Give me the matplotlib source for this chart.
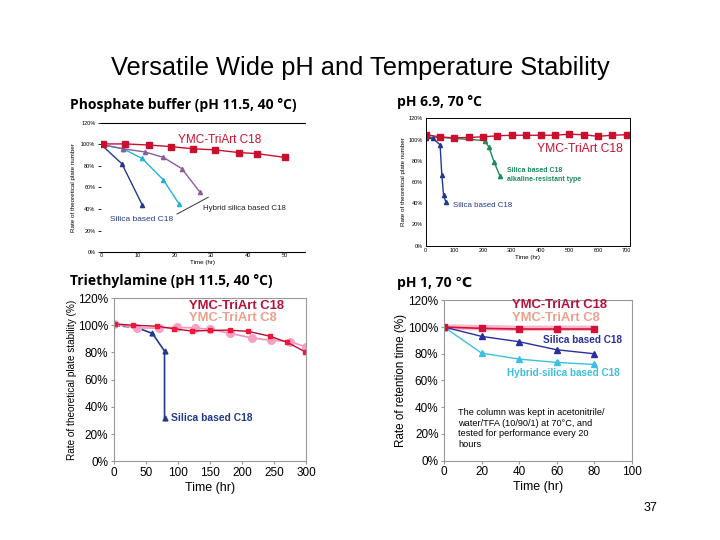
import matplotlib.pyplot as plt
from matplotlib.ticker import FuncFormatter

plt.rcParams['font.family'] = ['Liberation Sans', 'DejaVu Sans']

# --- data ---------------------------------------------------------------
# Phosphate buffer (pH 11.5, 40 C)
p1_c18_x = [0.5, 6.5, 13, 19, 25, 31, 37.5, 42.5, 50]
p1_c18_y = [100.5, 100.5, 99.5, 98, 96, 95, 92.5, 91.5, 88]
p1_silica_x = [0, 5.7, 11.2]
p1_silica_y = [100, 82, 44]
p1_hyb1_x = [0, 6, 11.2, 17, 21.2]
p1_hyb1_y = [100, 96, 87, 67, 45]
p1_hyb2_x = [0, 6, 12, 17, 22, 27]
p1_hyb2_y = [100, 96, 93, 88, 77.5, 55.5]

# pH 6.9, 70 C
p2_c18_x = [0, 50, 100, 150, 200, 250, 300, 350, 400, 450, 500, 550, 600, 650, 700]
p2_c18_y = [104.5, 102.5, 101.5, 102, 102.5, 103.5, 104, 104, 104, 104, 105, 104.5, 103, 104, 104.5]
p2_silica_x = [0, 25, 50, 56, 62, 70]
p2_silica_y = [101, 101, 95, 67, 48, 41]
p2_alk_x = [0, 50, 205, 220, 238, 258]
p2_alk_y = [102, 102, 99, 93, 79, 66]

# Triethylamine (pH 11.5, 40 C)
p3_c18_x = [1, 30, 67, 94, 122, 150, 181, 210, 243, 271, 299]
p3_c18_y = [101, 100, 99.3, 97.4, 95.7, 96.2, 96.4, 95.5, 92, 87.4, 80.4]
p3_c8_x = [0, 36, 71, 98, 126, 150, 182, 216, 245, 275, 300]
p3_c8_y = [101, 98, 98, 98.5, 98, 97, 94, 90.6, 89, 88, 84]
p3_silica_x = [0, 20, 40, 60, 79, 79]
p3_silica_y = [100, 99, 97.5, 94, 81, 32]

# pH 1, 70 C
p4_x = [0, 20, 40, 60, 80]
p4_c18_y = [100, 99, 98.5, 98.5, 98.5]
p4_c8_y = [100, 99.5, 99, 99, 99]
p4_silica_y = [100, 93, 89, 83, 80]
p4_hyb_y = [100, 80.5, 76, 73.5, 72]

pct = FuncFormatter(lambda v, p: '%d%%' % v)

RED = '#c8102e'
NAVY = '#233a8c'
CYAN = '#20b4d4'
PURPLE = '#8c5c9c'
GREEN = '#1d8a5c'

fig = plt.figure(figsize=(7.2, 5.4), dpi=100)
fig.text(0.5, 0.874, 'Versatile Wide pH and Temperature Stability', ha='center', va='center', fontsize=18.3)
fig.text(0.903, 0.06, '37', ha='center', va='center', fontsize=9)

title_kw = dict(fontsize=10, fontweight='bold', family=['Open Sans', 'DejaVu Sans'], ha='left', va='center')
fig.text(0.097, 0.805, 'Phosphate buffer (pH 11.5, 40 \u00b0C)', **title_kw)
fig.text(0.551, 0.811, 'pH 6.9, 70 \u00b0C', **title_kw)
fig.text(0.097, 0.48, 'Triethylamine (pH 11.5, 40 \u00b0C)', **title_kw)
fig.text(0.551, 0.476, 'pH 1, 70 \u2103', **title_kw)

# --- panel 1 ------------------------------------------------------------
ax1 = fig.add_axes([0.1403, 0.5333, 0.283, 0.239])
ax1.plot(p1_silica_x, p1_silica_y, color=NAVY, marker='^', ms=3, lw=1)
ax1.plot(p1_hyb1_x, p1_hyb1_y, color=CYAN, marker='^', ms=3, lw=1)
ax1.plot(p1_hyb2_x, p1_hyb2_y, color=PURPLE, marker='^', ms=3, lw=1)
ax1.plot(p1_c18_x, p1_c18_y, color=RED, marker='s', ms=4, lw=1)
ax1.plot([20.7, 29.2], [35.3, 50.9], color='#333333', lw=0.7)
ax1.text(20.9, 104, 'YMC-TriArt C18', color=RED, fontsize=8.5, va='center')
ax1.text(27.7, 40, 'Hybrid silica based C18', color='#222222', fontsize=5.7, va='center')
ax1.text(2.4, 30.7, 'Silica based C18', color=NAVY, fontsize=6, va='center')
ax1.set_xlim(0, 55.5)
ax1.set_ylim(0, 120)
ax1.set_xticks([0, 10, 20, 30, 40, 50])
ax1.set_yticks([0, 20, 40, 60, 80, 100, 120])
ax1.yaxis.set_major_formatter(pct)
ax1.tick_params(labelsize=4, length=2, width=0.6, pad=2)
ax1.tick_params(axis='x', length=0, pad=1)
for s in ['left', 'right']:
    ax1.spines[s].set_visible(False)
ax1.set_ylabel('Rate of theoretical plate number', fontsize=4.5, labelpad=4)
ax1.set_xlabel('Time (hr)', fontsize=4.5, labelpad=1)

# --- panel 2 ------------------------------------------------------------
ax2 = fig.add_axes([0.5913, 0.545, 0.2838, 0.236])
ax2.plot(p2_alk_x, p2_alk_y, color=GREEN, marker='^', ms=3, lw=1)
ax2.plot(p2_silica_x, p2_silica_y, color=NAVY, marker='^', ms=3, lw=1)
ax2.plot(p2_c18_x, p2_c18_y, color=RED, marker='s', ms=4, lw=1)
ax2.text(388, 91, 'YMC-TriArt C18', color=RED, fontsize=8.7, va='center')
ax2.text(284, 67, 'Silica based C18\nalkaline-resistant type', color=GREEN, fontsize=5,
         va='center', fontweight='bold', linespacing=1.4)
ax2.text(95, 37.4, 'Silica based C18', color=NAVY, fontsize=5.7, va='center')
ax2.set_xlim(0, 712)
ax2.set_ylim(0, 120)
ax2.set_xticks([0, 100, 200, 300, 400, 500, 600, 700])
ax2.set_yticks([0, 20, 40, 60, 80, 100, 120])
ax2.yaxis.set_major_formatter(pct)
ax2.tick_params(labelsize=4, length=0, pad=2)
for s in ax2.spines.values():
    s.set_linewidth(0.7)
ax2.set_ylabel('Rate of theoretical plate number', fontsize=4.5, labelpad=2)
ax2.set_xlabel('Time (hr)', fontsize=4.5, labelpad=1)

# --- panel 3 ------------------------------------------------------------
ax3 = fig.add_axes([0.1583, 0.1457, 0.2667, 0.3024])
ax3.plot(p3_silica_x[:3], p3_silica_y[:3], color=NAVY, lw=1.2, ls='--')
ax3.plot(p3_silica_x[2:], p3_silica_y[2:], color=NAVY, lw=1.2)
ax3.plot(p3_silica_x[3:], p3_silica_y[3:], color=NAVY, lw=0, marker='^', ms=3.5)
ax3.plot(p3_c8_x, p3_c8_y, color='#f590bb', marker='o', ms=5.5, mfc='#f7a0c6', mec='#f7a0c6', lw=1.2)
ax3.plot(p3_c18_x, p3_c18_y, color='#b01030', marker='s', ms=3.5, mfc='#f01838', mec='#f01838', lw=1)
ax3.text(117, 114.5, 'YMC-TriArt C18', color='#b5123a', fontsize=9.4, fontweight='bold', va='center')
ax3.text(117, 105.2, 'YMC-TriArt C8', color='#eba08c', fontsize=9.4, fontweight='bold', va='center')
ax3.text(89.5, 32, 'Silica based C18', color=NAVY, fontsize=7.4, fontweight='bold', va='center')
ax3.set_xlim(0, 297)
ax3.set_ylim(0, 120)
ax3.set_xticks([0, 50, 100, 150, 200, 250, 300])
ax3.set_yticks([0, 20, 40, 60, 80, 100, 120])
ax3.yaxis.set_major_formatter(pct)
ax3.tick_params(labelsize=8.5, length=2, color='#999999', pad=2)
for s in ax3.spines.values():
    s.set_color('#999999')
    s.set_linewidth(0.8)
ax3.set_ylabel('Rate of theoretical plate stability (%)', fontsize=7.2, labelpad=1)
ax3.set_xlabel('Time (hr)', fontsize=9, labelpad=2)

# --- panel 4 ------------------------------------------------------------
ax4 = fig.add_axes([0.6167, 0.1469, 0.2607, 0.297])
ax4.plot(p4_x, p4_c8_y, color='#f7b8cc', lw=4, solid_capstyle='butt')
ax4.plot(p4_x, p4_hyb_y, color='#3cc0e2', marker='^', ms=4, lw=1)
ax4.plot(p4_x, p4_silica_y, color='#2a2fa0', marker='^', ms=4, lw=1)
ax4.plot(p4_x, p4_c18_y, color='#d41038', marker='s', ms=4, lw=1.2)
ax4.text(36, 116.3, 'YMC-TriArt C18', color='#b5123a', fontsize=9.4, fontweight='bold', va='center')
ax4.text(36, 107, 'YMC-TriArt C8', color='#eba08c', fontsize=9.4, fontweight='bold', va='center')
ax4.text(52.7, 90, 'Silica based C18', color='#2a2fa0', fontsize=7.2, fontweight='bold', va='center')
ax4.text(33.6, 65.6, 'Hybrid-silica based C18', color='#3cc0e2', fontsize=7.2, fontweight='bold', va='center')
ax4.text(7.5, 24, 'The column was kept in acetonitrile/\nwater/TFA (10/90/1) at 70\u00b0C, and\n'
         'tested for performance every 20\nhours', fontsize=6.6, va='center', linespacing=1.25)
ax4.set_xlim(0, 100)
ax4.set_ylim(0, 120)
ax4.set_xticks([0, 20, 40, 60, 80, 100])
ax4.set_yticks([0, 20, 40, 60, 80, 100, 120])
ax4.yaxis.set_major_formatter(pct)
ax4.tick_params(labelsize=8.5, length=2, color='#999999', pad=2)
for s in ax4.spines.values():
    s.set_color('#999999')
    s.set_linewidth(0.8)
ax4.set_ylabel('Rate of retention time (%)', fontsize=8.4, labelpad=1)
ax4.set_xlabel('Time (hr)', fontsize=9, labelpad=2)

fig.savefig('out.png', dpi=100)
